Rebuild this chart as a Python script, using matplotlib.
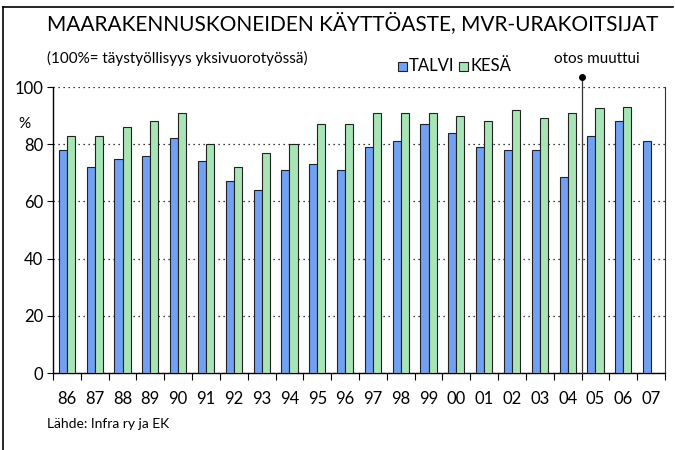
import numpy as np
import matplotlib
matplotlib.use("Agg")
import matplotlib.pyplot as plt
from matplotlib.lines import Line2D
from matplotlib.patches import Rectangle

plt.rcParams['font.family'] = ['Lato', 'DejaVu Sans']

# data
years = ['86', '87', '88', '89', '90', '91', '92', '93', '94', '95', '96',
         '97', '98', '99', '00', '01', '02', '03', '04', '05', '06', '07']
talvi = [78, 72, 75, 76, 82, 74, 67, 64, 71, 73, 71,
         79, 81, 87, 84, 79, 78, 78, 68.5, 83, 88, 81]
kesa = [83, 83, 86, 88, 91, 80, 72, 77, 80, 87, 87,
        91, 91, 91, 90, 88, 92, 89, 91, 92.5, 93, None]

BLUE = '#72a0f2'
GREEN = '#a8e4b6'

fig = plt.figure(figsize=(6.75, 4.5), dpi=100)
ax = fig.add_axes([53 / 675, 1 - 373 / 450, 612 / 675, 286 / 450])

x = np.arange(len(years))
w = 0.29
ax.bar(x - w / 2, talvi, width=w, color=BLUE, edgecolor='#222222', linewidth=0.8,
       zorder=3)
kx = [i for i, v in enumerate(kesa) if v is not None]
kv = [v for v in kesa if v is not None]
ax.bar(np.array(kx) + w / 2, kv, width=w, color=GREEN, edgecolor='#222222',
       linewidth=0.8, zorder=3)

ax.set_xlim(-0.5, len(years) - 0.5)
ax.set_ylim(0, 100)
ax.set_yticks(range(0, 101, 20))
ax.set_yticklabels([str(v) for v in range(0, 101, 20)], fontsize=12)
ax.yaxis.grid(True, linestyle=(0, (1, 3)), color='black', linewidth=0.9, zorder=0)
ax.set_axisbelow(True)

ax.set_xticks(np.arange(-0.5, len(years), 1.0))
ax.set_xticklabels([])
ax.set_xticks(x, minor=True)
ax.set_xticklabels(years, minor=True, fontsize=12)
ax.tick_params(axis='x', which='major', direction='out', length=5, width=0.8)
ax.tick_params(axis='x', which='minor', length=0, pad=13)
ax.tick_params(axis='y', direction='out', length=4, width=0.8, pad=3)

ax.spines['top'].set_visible(False)
ax.spines['right'].set_linewidth(0.8)
ax.spines['right'].set_color('#333333')
ax.spines['left'].set_linewidth(1.0)
ax.spines['bottom'].set_linewidth(1.0)

ax.text(-0.046, 0.87, '%', transform=ax.transAxes, fontsize=11, ha='center', va='center')

# otos muuttui marker line
xm = 18.5
ax.plot([xm, xm], [0, 103.5], color='#333333', linewidth=0.9, clip_on=False, zorder=4)
ax.plot([xm], [103.5], marker='o', markersize=4, color='black', clip_on=False, zorder=5)
fig.text(597 / 675, 1 - 59 / 450, 'otos muuttui', fontsize=11, ha='center', va='center')

# legend
for lx, col, lab in [(398, BLUE, 'TALVI'), (459, GREEN, 'KESÄ')]:
    fig.patches.append(Rectangle((lx / 675, 1 - 71 / 450), 9 / 675, 9 / 450,
                                 transform=fig.transFigure, facecolor=col,
                                 edgecolor='#222222', linewidth=0.8))
    fig.text((lx + 11) / 675, 1 - 66 / 450, lab, fontsize=12, ha='left', va='center')

fig.text(47 / 675, 1 - 23 / 450, 'MAARAKENNUSKONEIDEN KÄYTTÖASTE, MVR-URAKOITSIJAT',
         fontsize=15, ha='left', va='center')
fig.text(47 / 675, 1 - 58 / 450, '(100%= täystyöllisyys yksivuorotyössä)',
         fontsize=11, ha='left', va='center')
fig.text(47 / 675, 1 - 424 / 450, 'Lähde: Infra ry ja EK', fontsize=10,
         ha='left', va='center')

# outer frame
fig.add_artist(Line2D([3 / 675, 673 / 675], [1 - 7 / 450, 1 - 7 / 450],
                      transform=fig.transFigure, color='black', linewidth=1.2))
fig.add_artist(Line2D([3 / 675, 3 / 675], [1 - 7 / 450, 0],
                      transform=fig.transFigure, color='black', linewidth=1.2))

fig.savefig('out.png', dpi=100)
